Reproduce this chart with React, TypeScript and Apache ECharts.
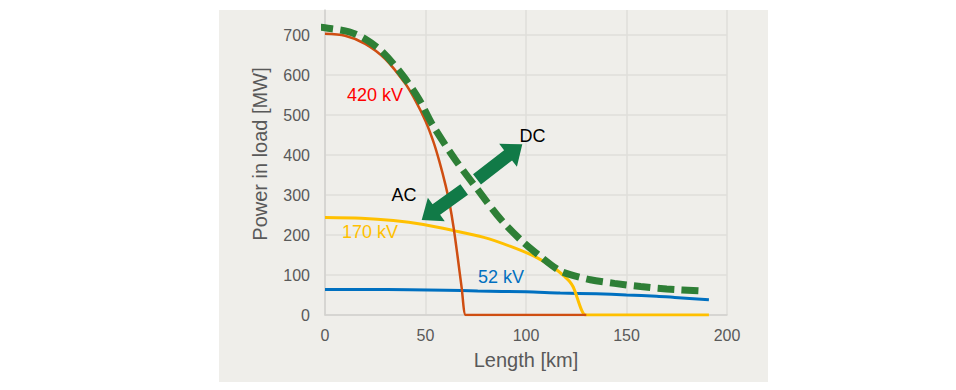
import React, { useEffect, useRef } from "react";
import * as echarts from "echarts";

// ---- data (km, MW) ----
const line52kV: [number, number][] = [
  [0, 64], [20, 64], [42, 63], [60, 62], [76, 60], [100, 58], [117, 55],
  [135, 53], [150, 50], [165, 47], [174, 44], [191, 38],
];
const line170kV: [number, number][] = [
  [0, 244], [18, 242], [34, 236], [49, 226], [64, 211], [79, 194], [92, 172],
  [104, 147], [112, 124], [116, 110], [119, 97], [121.5, 85], [123.5, 70],
  [129.6, 0], [131, 0], [191, 0],
];
const line420kV: [number, number][] = [
  [0, 703], [10, 698], [20, 678], [30, 640], [40, 578], [45, 536], [50, 485],
  [54, 432], [57, 382], [60, 324], [62, 278], [64, 218], [66, 145],
  [68, 68], [70, 0], [72, 0], [130, 0],
];
const lineDC: [number, number][] = [
  [-4.3, 721], [0, 718], [12, 708], [20, 690], [28.5, 658], [38.5, 600],
  [46.7, 540], [53.4, 476], [65, 387], [77.4, 304], [87.3, 240], [97.3, 188],
  [107, 147], [116, 113], [122, 101], [132, 88], [144, 79], [157, 71],
  [170, 65], [188, 60],
];
const seriesNames = ["52 kV", "170 kV", "420 kV", "DC"];
const annotationTexts = ["420 kV", "170 kV", "52 kV", "AC", "DC"];
const xTitle = "Length [km]";
const yTitle = "Power in load [MW]";

export default function App() {
  const ref = useRef<HTMLDivElement>(null);
  useEffect(() => {
    const chart = echarts.init(ref.current!, null, { renderer: "svg" });
    const font = "'Liberation Sans', Arial, Helvetica, sans-serif";
    const gridColor = "#DFDEDA";
    const axisColor = "#D2D1CE";
    const labelColor = "#595959";
    const arrowColor = "#117A47";

    const arrow = (sx: number, sy: number, tx: number, ty: number) => {
      const bw = 6.5, hw = 14.5, hl = 18;
      const dx = tx - sx, dy = ty - sy;
      const L = Math.hypot(dx, dy);
      const ux = dx / L, uy = dy / L;
      const nx = -uy, ny = ux;
      const bx = tx - ux * hl, by = ty - uy * hl;
      return [
        [sx + nx * bw, sy + ny * bw],
        [bx + nx * bw, by + ny * bw],
        [bx + nx * hw, by + ny * hw],
        [tx, ty],
        [bx - nx * hw, by - ny * hw],
        [bx - nx * bw, by - ny * bw],
        [sx - nx * bw, sy - ny * bw],
      ];
    };

    const txt = (text: string, x: number, y: number, fill: string, size: number, extra: any = {}) => ({
      type: "text",
      x,
      y,
      z: 50,
      ...extra,
      style: {
        text,
        fill,
        font: `${size}px ${font}`,
        textAlign: "center",
        textVerticalAlign: "middle",
      },
    });

    chart.setOption({
      animation: false,
      backgroundColor: "#FFFFFF",
      grid: { left: 325, right: 229, top: 10, bottom: 75, containLabel: false },
      xAxis: {
        type: "value",
        min: 0,
        max: 200,
        interval: 50,
        axisLine: { show: true, lineStyle: { color: axisColor, width: 1.5 } },
        axisTick: { show: false },
        axisLabel: { color: labelColor, fontSize: 16, fontFamily: font, margin: 12 },
        splitLine: { show: true, lineStyle: { color: gridColor, width: 1.5 } },
      },
      yAxis: {
        type: "value",
        min: 0,
        max: 762.5,
        interval: 100,
        axisLine: { show: true, lineStyle: { color: axisColor, width: 1.5 } },
        axisTick: { show: false },
        axisLabel: {
          color: labelColor,
          fontSize: 16,
          fontFamily: font,
          margin: 15,
          showMaxLabel: false,
        },
        splitLine: {
          show: true,
          showMaxLine: false,
          lineStyle: {
            color: [gridColor, gridColor, gridColor, gridColor, gridColor, gridColor, gridColor, gridColor, "rgba(0,0,0,0)"],
            width: 1.5,
          },
        },
      },
      series: [
        {
          name: seriesNames[0],
          type: "line",
          data: line52kV,
          showSymbol: false,
          smooth: 0.3,
          lineStyle: { color: "#0070C0", width: 3 },
          z: 3,
        },
        {
          name: seriesNames[1],
          type: "line",
          data: line170kV,
          showSymbol: false,
          smooth: 0.3,
          lineStyle: { color: "#FFC000", width: 3 },
          z: 4,
        },
        {
          name: seriesNames[2],
          type: "line",
          data: line420kV,
          showSymbol: false,
          smooth: 0.3,
          lineStyle: { color: "#CF4E12", width: 2.5 },
          z: 5,
        },
        {
          name: seriesNames[3],
          type: "line",
          data: lineDC,
          showSymbol: false,
          clip: false,
          smooth: 0.3,
          lineStyle: { color: "#2E7F36", width: 7, type: [17, 7], cap: "butt" },
          z: 6,
        },
      ],
      graphic: [
        {
          type: "rect",
          z: -10,
          silent: true,
          shape: { x: 219, y: 10, width: 549, height: 372 },
          style: { fill: "#EFEEEA" },
        },
        { type: "polygon", z: 40, shape: { points: arrow(477, 179.3, 522.3, 144.3) }, style: { fill: arrowColor } },
        { type: "polygon", z: 40, shape: { points: arrow(464.2, 189.5, 421.7, 220) }, style: { fill: arrowColor } },
        txt(annotationTexts[0], 375, 95, "#FF0000", 18),
        txt(annotationTexts[1], 370, 232, "#FFC000", 18),
        txt(annotationTexts[2], 501, 277, "#0070C0", 18),
        txt(annotationTexts[3], 404, 195, "#000000", 18),
        txt(annotationTexts[4], 532.5, 136, "#000000", 18),
        txt(xTitle, 526, 360, labelColor, 20),
        txt(yTitle, 260, 154, labelColor, 20, { rotation: Math.PI / 2 }),
      ],
    });
    return () => chart.dispose();
  }, []);
  return (
    <div
      ref={ref}
      style={{ position: "absolute", left: 0, top: 0, width: 956, height: 390 }}
    />
  );
}
